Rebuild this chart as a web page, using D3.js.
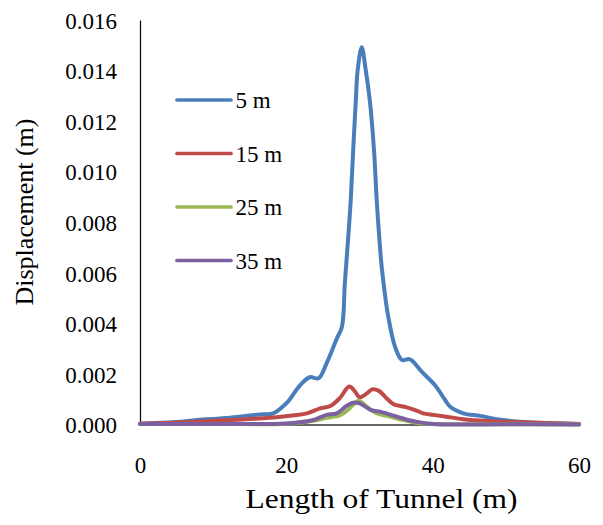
<!DOCTYPE html>
<html>
<head>
<meta charset="utf-8">
<script src="https://cdn.jsdelivr.net/npm/d3@7/dist/d3.min.js"></script>
<style>
  html, body { margin: 0; padding: 0; background: #fff; }
  svg { display: block; }
  text { font-family: "Liberation Serif", "Times New Roman", serif; fill: #000; }
</style>
</head>
<body>
<svg id="chart" width="603" height="525"></svg>
<script>
// Displacement along the tunnel for four depths
const seriesNames = ["5 m", "15 m", "25 m", "35 m"];
const seriesColors = ["#4a7ebb", "#be4b48", "#98b954", "#7d60a0"];

const x5 = [0, 5, 7.75, 12.3, 16.4, 18.2, 20.0, 20.4, 21.9, 23.2, 24.4, 25.5, 26.9, 27.6, 28.0, 28.5, 28.8, 29.14, 29.5, 29.75, 30.3, 30.85, 31.4, 31.98, 32.35, 32.66, 33.03, 33.58, 33.93, 34.85, 35.8, 36.9, 38.5, 40.3, 41.7, 42.4, 44.2, 46.5, 48.75, 51.9, 56.4, 60];
const y5 = [0.00003, 0.0001, 0.00018, 0.00027, 0.0004, 0.00044, 0.00084, 0.00097, 0.00156, 0.00187, 0.00183, 0.00242, 0.0034, 0.00387, 0.0056, 0.00757, 0.00888, 0.01086, 0.01284, 0.01402, 0.01492, 0.01402, 0.01284, 0.01086, 0.00888, 0.00756, 0.00624, 0.00492, 0.00426, 0.00308, 0.00255, 0.00258, 0.00209, 0.00156, 0.00097, 0.0007, 0.00044, 0.00034, 0.00021, 0.00011, 0.00005, 0.00002];

const x15 = [0, 7.75, 12.3, 16.85, 20.5, 22.8, 24.6, 26.0, 27.3, 28.6, 29.4, 30.0, 31.0, 31.7, 32.6, 33.7, 34.6, 36.45, 37.8, 38.7, 40.1, 41.9, 44.2, 47.4, 51.9, 60];
const y15 = [0.00003, 0.00011, 0.00018, 0.00025, 0.00035, 0.00044, 0.00064, 0.00073, 0.00104, 0.0015, 0.0013, 0.00108, 0.00123, 0.00139, 0.00134, 0.00104, 0.00081, 0.00068, 0.00055, 0.00044, 0.00038, 0.00031, 0.00021, 0.00014, 0.00009, 0.00002];

const x25 = [0, 10, 19.6, 21.9, 24.2, 26.5, 27.3, 28.3, 29.3, 29.9, 30.6, 31.6, 32.4, 34.2, 35.5, 37.8, 40.1, 50, 60];
const y25 = [0.00002, 0.00002, 0.00002, 0.00007, 0.00018, 0.00031, 0.00036, 0.00055, 0.00082, 0.00094, 0.0008, 0.00057, 0.00044, 0.00031, 0.00021, 0.00007, 0.00002, 0.00001, 0];

const x35 = [0, 10, 20.5, 23.7, 25.5, 26.9, 28.2, 29.1, 30.0, 31.6, 32.8, 33.3, 35.1, 36.6, 37.8, 40.1, 50, 60];
const y35 = [0.00002, 0.00002, 0.00005, 0.00018, 0.00038, 0.00044, 0.00073, 0.00086, 0.00084, 0.00057, 0.00051, 0.00047, 0.00031, 0.00018, 0.00011, 0.00002, 0.00001, 0];

const xTicks = [0, 20, 40, 60];
const yTicks = [0, 0.002, 0.004, 0.006, 0.008, 0.010, 0.012, 0.014, 0.016];

const seriesX = [x5, x15, x25, x35];
const seriesY = [y5, y15, y25, y35];

const FONT = '"Liberation Serif", "Times New Roman", serif';
const svg = d3.select("#chart");

const x = d3.scaleLinear().domain([0, 60]).range([140, 579]);
const y = d3.scaleLinear().domain([0, 0.016]).range([424.5, 20]);

// x axis: baseline line plus tick labels
const gx = svg.append("g")
  .attr("transform", `translate(0,${y(0)})`)
  .call(d3.axisBottom(x).tickValues(xTicks).tickSize(0).tickPadding(32).tickFormat(d3.format("d")));
gx.attr("font-family", null).attr("font-size", null);
gx.select(".domain").attr("stroke", "#333").attr("stroke-width", 1.3);
gx.selectAll("text").style("font-family", FONT).style("font-size", "23px").attr("fill", "#000");

// y axis
const gy = svg.append("g")
  .attr("transform", `translate(${x(0)},0)`)
  .call(d3.axisLeft(y).tickValues(yTicks).tickSize(0).tickPadding(23).tickFormat(d3.format(".3f")));
gy.attr("font-family", null).attr("font-size", null);
gy.select(".domain").attr("stroke", "#111").attr("stroke-width", 1.3);
gy.selectAll("text").style("font-family", FONT).style("font-size", "23px").attr("fill", "#000").attr("dy", "0.36em");

// axis titles
svg.append("text")
  .attr("x", 381.5).attr("y", 508)
  .attr("text-anchor", "middle")
  .attr("textLength", 272)
  .attr("lengthAdjust", "spacingAndGlyphs")
  .style("font-family", FONT)
  .style("font-size", "27px")
  .text("Length of Tunnel (m)");

svg.append("text")
  .attr("transform", "translate(33,212) rotate(-90)")
  .attr("text-anchor", "middle")
  .style("font-family", FONT)
  .style("font-size", "26px")
  .text("Displacement (m)");

// smoothed series lines
const line = d3.line()
  .x(d => x(d[0]))
  .y(d => y(d[1]))
  .curve(d3.curveCatmullRom.alpha(0.5));

seriesNames.forEach((name, i) => {
  const pts = seriesX[i].map((xv, j) => [xv, seriesY[i][j]]);
  svg.append("path")
    .datum(pts)
    .attr("fill", "none")
    .attr("stroke", seriesColors[i])
    .attr("stroke-width", 4)
    .attr("stroke-linejoin", "round")
    .attr("stroke-linecap", "round")
    .attr("d", line);
});

// legend
const legend = svg.append("g");
const legendY = d3.scalePoint().domain(seriesNames).range([100, 260.5]);
seriesNames.forEach((name, i) => {
  const ly = legendY(name);
  legend.append("line")
    .attr("x1", 177).attr("x2", 231)
    .attr("y1", ly).attr("y2", ly)
    .attr("stroke", seriesColors[i])
    .attr("stroke-width", 3.7)
    .attr("stroke-linecap", "round");
  legend.append("text")
    .attr("x", 235.5).attr("y", ly + 8)
    .style("font-family", FONT)
    .style("font-size", "23px")
    .text(name);
});
</script>
</body>
</html>
